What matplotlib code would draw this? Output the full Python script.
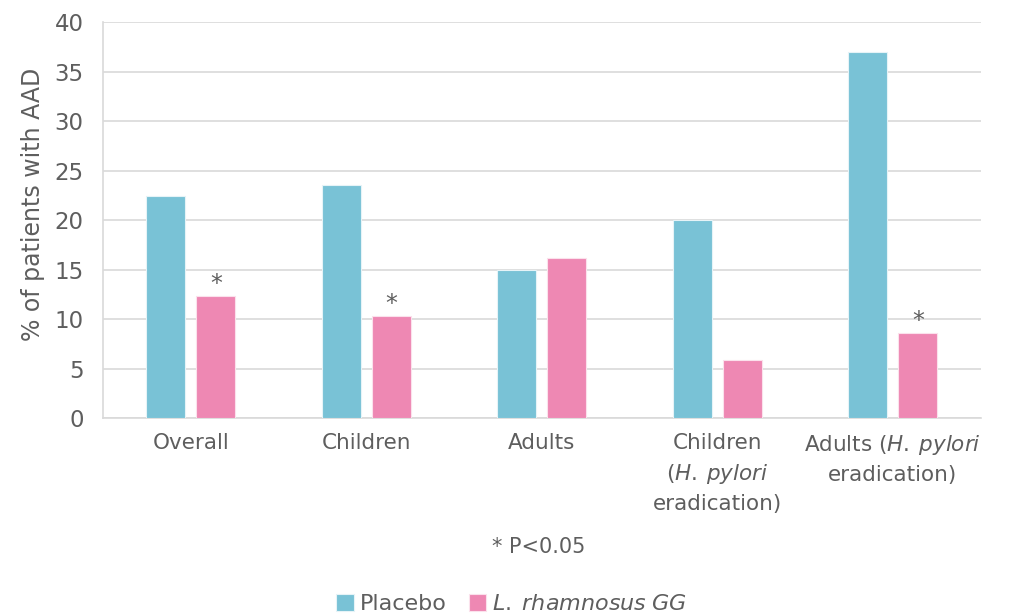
import numpy as np
import matplotlib
matplotlib.use("Agg")
import matplotlib.pyplot as plt

plt.rcParams['font.family'] = ['DejaVu Sans']
plt.rcParams['mathtext.fontset'] = 'custom'
plt.rcParams['mathtext.rm'] = 'DejaVu Sans'
plt.rcParams['mathtext.it'] = 'DejaVu Sans:italic'

groups = ["Overall", "Children", "Adults",
          "Children\n($\\mathit{H.\\:pylori}$\neradication)",
          "Adults ($\\mathit{H.\\:pylori}$\neradication)"]
placebo = [22.4, 23.5, 15.0, 20.0, 37.0]
lgg = [12.3, 10.3, 16.2, 5.9, 8.6]
significant = [True, True, False, False, True]

grey = '#5E5E5E'
c_placebo = '#79C2D6'
c_lgg = '#EE88B3'

fig = plt.figure(figsize=(10.13, 6.15), dpi=100)
ax = fig.add_axes([0.1017, 0.3203, 0.8663, 0.6439])

x = np.arange(len(groups))
w = 0.222
off = 0.143
ax.bar(x - off, placebo, w, color=c_placebo, edgecolor='#E6F3F7', linewidth=0.8,
       label='Placebo', zorder=3)
ax.bar(x + off, lgg, w, color=c_lgg, edgecolor='#FBE1EC', linewidth=0.8,
       label='$\\mathit{L.\\;rhamnosus\\;GG}$', zorder=3)

for i, s in enumerate(significant):
    if s:
        ax.annotate('*', (x[i] + off, lgg[i]), xytext=(0, 0), textcoords='offset points',
                    ha='center', va='bottom', fontsize=17, color=grey)

ax.set_xlim(-0.5, len(groups) - 0.5)
ax.set_ylim(0, 40)
ax.set_yticks(np.arange(0, 41, 5))
ax.set_xticks(x)
ax.set_xticklabels(groups, fontsize=15.5, color=grey, linespacing=1.5)
ax.tick_params(axis='both', length=0, colors=grey)
ax.tick_params(axis='y', labelsize=16.5, pad=14)
ax.tick_params(axis='x', pad=11)
ax.grid(axis='y', color='#D9D9D9', linewidth=1.2, zorder=0)
for side in ['top', 'right']:
    ax.spines[side].set_visible(False)
for side in ['left', 'bottom']:
    ax.spines[side].set_color('#D9D9D9')
    ax.spines[side].set_linewidth(1.2)

ax.set_ylabel('% of patients with AAD', fontsize=17, color=grey)
ax.yaxis.set_label_coords(-0.066, 0.54)

fig.text(0.532, 0.11, '* P<0.05', ha='center', va='center', fontsize=15, color=grey)

leg = fig.legend(loc='center', bbox_to_anchor=(0.505, 0.018), ncol=2, frameon=False,
                 fontsize=16, handlelength=0.8, handleheight=0.8, handletextpad=0.25,
                 columnspacing=1.0, labelcolor=grey)

fig.savefig('out.png', dpi=100)
